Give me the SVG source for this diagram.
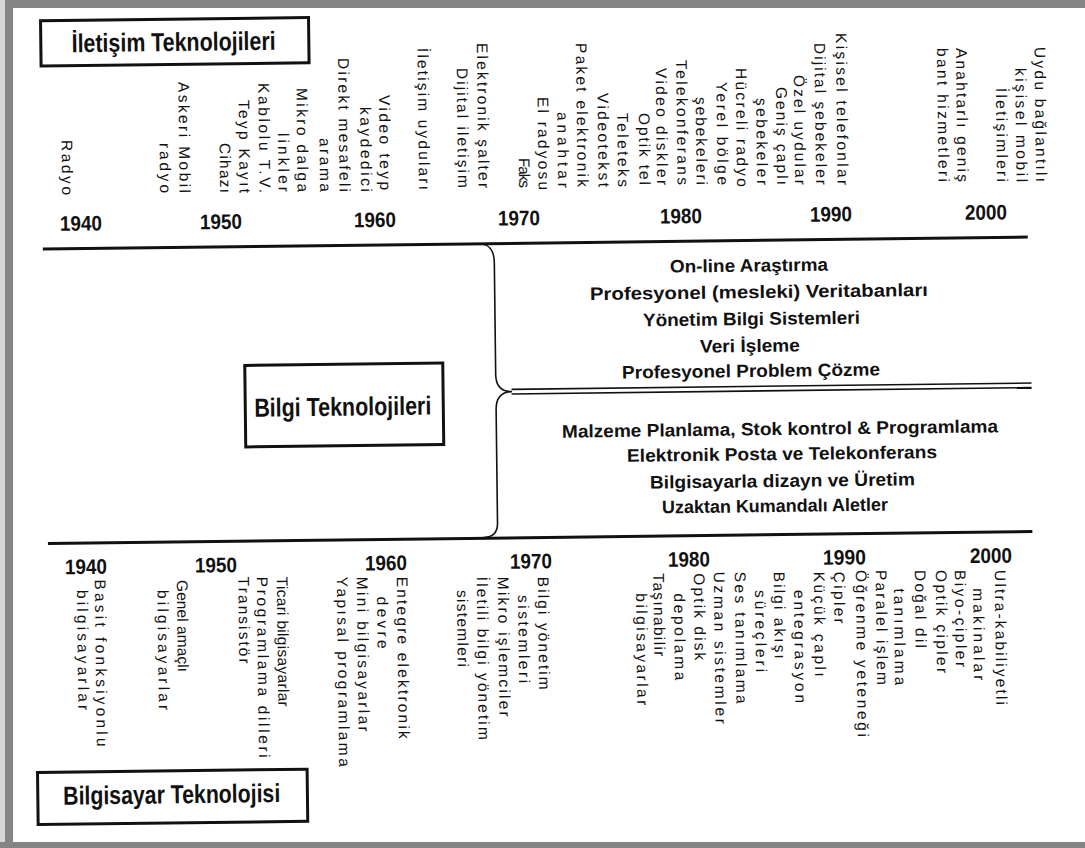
<svg xmlns="http://www.w3.org/2000/svg" width="1085" height="848" viewBox="0 0 1085 848">
  <style>
    .lbl { font-family: "Liberation Sans", Arial, sans-serif; font-size: 15.5px; fill: #111; }
    .yr { font-family: "Liberation Sans", Arial, sans-serif; font-size: 21px; font-weight: bold; fill: #111; }
    .mid { font-family: "Liberation Sans", Arial, sans-serif; font-size: 18px; font-weight: bold; fill: #111; }
    .ttl { font-family: "Liberation Sans", Arial, sans-serif; font-size: 26px; font-weight: bold; fill: #111; }
    .box { fill: none; stroke: #111; stroke-width: 3; }
    .rule { stroke: #111; stroke-width: 3; fill: none; }
    .thin { stroke: #111; stroke-width: 1.6; fill: none; }
    .frame { fill: #858585; }
  </style>
  <rect width="1085" height="848" fill="#ffffff"/>

  <!-- page frame -->
  <g id="frame">
    <rect class="frame" x="0" y="0" width="1085" height="8"/>
    <rect x="0" y="0" width="5" height="848" fill="#d6d6d6"/>
    <rect class="frame" x="5" y="0" width="8" height="848"/>
    <rect class="frame" x="0" y="842" width="1085" height="6"/>
  </g>

  <!-- the whole sheet sits slightly tilted -->
  <g transform="rotate(-0.7 542 424)">

    <g id="connectors">
      <line class="rule" x1="45" y1="243" x2="1030" y2="243"/>
      <line class="rule" x1="46.5" y1="537.5" x2="1031" y2="537.5"/>
      <path class="thin" d="M481,243 C491,243 496.3,250 496.3,262 L496.3,374 C496.3,386 502,391.3 512.5,391.3 C502,391.3 496.3,397 496.3,409 L496.3,523 C496.3,532 491,537 481,537"/>
      <line class="thin" x1="512" y1="389" x2="1032" y2="389"/>
      <line class="thin" x1="512" y1="393.6" x2="1032" y2="393.6"/>
    </g>

    <g id="iletisim-teknolojileri">
      <rect class="box" x="45.5" y="14.7" width="268" height="45.3"/>
      <text class="ttl" x="76.3" y="46.5" textLength="204" lengthAdjust="spacingAndGlyphs">İletişim Teknolojileri</text>
    </g>

    <g id="bilgi-teknolojileri">
      <rect class="box" x="245.5" y="361.8" width="198" height="81.5"/>
      <text class="ttl" x="254.5" y="413.2" textLength="177" lengthAdjust="spacingAndGlyphs">Bilgi Teknolojileri</text>
    </g>

    <g id="bilgisayar-teknolojisi">
      <rect class="box" x="33.3" y="766.3" width="269.6" height="52.1"/>
      <text class="ttl" x="58.7" y="798.8" textLength="217" lengthAdjust="spacingAndGlyphs">Bilgisayar Teknolojisi</text>
    </g>

    <g id="years-top">
      <text class="yr" x="62.5" y="225" textLength="42" lengthAdjust="spacingAndGlyphs">1940</text>
      <text class="yr" x="202.5" y="225" textLength="42" lengthAdjust="spacingAndGlyphs">1950</text>
      <text class="yr" x="356.5" y="225" textLength="42" lengthAdjust="spacingAndGlyphs">1960</text>
      <text class="yr" x="500.5" y="225" textLength="42" lengthAdjust="spacingAndGlyphs">1970</text>
      <text class="yr" x="662.5" y="225" textLength="42" lengthAdjust="spacingAndGlyphs">1980</text>
      <text class="yr" x="812.5" y="225" textLength="42" lengthAdjust="spacingAndGlyphs">1990</text>
      <text class="yr" x="967.5" y="225" textLength="42" lengthAdjust="spacingAndGlyphs">2000</text>
    </g>

    <g id="years-bottom">
      <text class="yr" x="63.3" y="568.3" textLength="42" lengthAdjust="spacingAndGlyphs">1940</text>
      <text class="yr" x="193.3" y="568.3" textLength="42" lengthAdjust="spacingAndGlyphs">1950</text>
      <text class="yr" x="363.3" y="568.3" textLength="42" lengthAdjust="spacingAndGlyphs">1960</text>
      <text class="yr" x="508.3" y="568.3" textLength="42" lengthAdjust="spacingAndGlyphs">1970</text>
      <text class="yr" x="666.3" y="568.3" textLength="42" lengthAdjust="spacingAndGlyphs">1980</text>
      <text class="yr" x="821.3" y="568.3" textLength="43" lengthAdjust="spacingAndGlyphs">1990</text>
      <text class="yr" x="968.3" y="568.3" textLength="42" lengthAdjust="spacingAndGlyphs">2000</text>
    </g>

    <!-- communication technologies, vertical labels -->
    <g id="iletisim-items">
      <text class="lbl" transform="translate(65 134.2) rotate(90)" textLength="55" lengthAdjust="spacing">Radyo</text>
      <text class="lbl" transform="translate(182.5 77.6) rotate(90)" textLength="111" lengthAdjust="spacing">Askeri Mobil</text>
      <text class="lbl" transform="translate(163 138.4) rotate(90)" textLength="50" lengthAdjust="spacing">radyo</text>
      <text class="lbl" transform="translate(242.5 96.4) rotate(90)" textLength="93" lengthAdjust="spacing">Teyp Kayıt</text>
      <text class="lbl" transform="translate(223 139.1) rotate(90)" textLength="50" lengthAdjust="spacing">Cihazı</text>
      <text class="lbl" transform="translate(262.5 79.6) rotate(90)" textLength="110" lengthAdjust="spacing">Kablolu T.V.</text>
      <text class="lbl" transform="translate(300.5 85.1) rotate(90)" textLength="104" lengthAdjust="spacing">Mikro dalga</text>
      <text class="lbl" transform="translate(281.5 129.8) rotate(90)" textLength="59" lengthAdjust="spacing">linkler</text>
      <text class="lbl" transform="translate(342.5 55.6) rotate(90)" textLength="134" lengthAdjust="spacing">Direkt mesafeli</text>
      <text class="lbl" transform="translate(323 135.3) rotate(90)" textLength="54" lengthAdjust="spacing">arama</text>
      <text class="lbl" transform="translate(383 93.1) rotate(90)" textLength="95" lengthAdjust="spacing">Video teyp</text>
      <text class="lbl" transform="translate(364 104.8) rotate(90)" textLength="85" lengthAdjust="spacing">kaydedici</text>
      <text class="lbl" transform="translate(422 46.5) rotate(90)" textLength="142" lengthAdjust="spacing">İletişim uyduları</text>
      <text class="lbl" transform="translate(481.5 42.3) rotate(90)" textLength="145" lengthAdjust="spacing">Elektronik şalter</text>
      <text class="lbl" transform="translate(461 67) rotate(90)" textLength="120" lengthAdjust="spacing">Dijital iletişim</text>
      <text class="lbl" transform="translate(541.5 97) rotate(90)" textLength="93" lengthAdjust="spacing">El radyosu</text>
      <text class="lbl" transform="translate(522 157.8) rotate(90)" textLength="30" lengthAdjust="spacing">Faks</text>
      <text class="lbl" transform="translate(580.5 43.5) rotate(90)" textLength="144" lengthAdjust="spacing">Paket elektronik</text>
      <text class="lbl" transform="translate(561 112.2) rotate(90)" textLength="76" lengthAdjust="spacing">anahtar</text>
      <text class="lbl" transform="translate(601.5 93.7) rotate(90)" textLength="94" lengthAdjust="spacing">Videotekst</text>
      <text class="lbl" transform="translate(621 114) rotate(90)" textLength="74" lengthAdjust="spacing">Teleteks</text>
      <text class="lbl" transform="translate(642.5 114.2) rotate(90)" textLength="72" lengthAdjust="spacing">Optik tel</text>
      <text class="lbl" transform="translate(660 69.5) rotate(90)" textLength="117" lengthAdjust="spacing">Video diskler</text>
      <text class="lbl" transform="translate(680.5 61.7) rotate(90)" textLength="125" lengthAdjust="spacing">Telekonferans</text>
      <text class="lbl" transform="translate(699.5 98.9) rotate(90)" textLength="88" lengthAdjust="spacing">şebekeleri</text>
      <text class="lbl" transform="translate(720.5 84.2) rotate(90)" textLength="103" lengthAdjust="spacing">Yerel bölge</text>
      <text class="lbl" transform="translate(740 70.4) rotate(90)" textLength="119" lengthAdjust="spacing">Hücreli radyo</text>
      <text class="lbl" transform="translate(760 100.7) rotate(90)" textLength="87" lengthAdjust="spacing">şebekeler</text>
      <text class="lbl" transform="translate(780 89.9) rotate(90)" textLength="98" lengthAdjust="spacing">Geniş çaplı</text>
      <text class="lbl" transform="translate(798 78.1) rotate(90)" textLength="110" lengthAdjust="spacing">Özel uydular</text>
      <text class="lbl" transform="translate(819 46.4) rotate(90)" textLength="142" lengthAdjust="spacing">Dijital şebekeler</text>
      <text class="lbl" transform="translate(840.5 36.7) rotate(90)" textLength="152" lengthAdjust="spacing">Kişisel telefonlar</text>
      <text class="lbl" transform="translate(960.5 53.1) rotate(90)" textLength="134" lengthAdjust="spacing">Anahtarlı geniş</text>
      <text class="lbl" transform="translate(941.5 52.9) rotate(90)" textLength="134" lengthAdjust="spacing">bant hizmetleri</text>
      <text class="lbl" transform="translate(1039 53.1) rotate(90)" textLength="135" lengthAdjust="spacing">Uydu bağlantılı</text>
      <text class="lbl" transform="translate(1019.5 73.9) rotate(90)" textLength="114" lengthAdjust="spacing">kişisel mobil</text>
      <text class="lbl" transform="translate(1000 93.6) rotate(90)" textLength="94" lengthAdjust="spacing">İletişimleri</text>
    </g>

    <!-- information technologies, centred lists -->
    <g id="bilgi-items">
      <text class="mid" x="671.9" y="274.2" textLength="158" lengthAdjust="spacingAndGlyphs">On-line Araştırma</text>
      <text class="mid" x="591.5" y="300.7" textLength="338" lengthAdjust="spacingAndGlyphs">Profesyonel (mesleki) Veritabanları</text>
      <text class="mid" x="644.2" y="327.6" textLength="217" lengthAdjust="spacingAndGlyphs">Yönetim Bilgi Sistemleri</text>
      <text class="mid" x="700.9" y="354.5" textLength="100" lengthAdjust="spacingAndGlyphs">Veri İşleme</text>
      <text class="mid" x="622.6" y="379.6" textLength="258" lengthAdjust="spacingAndGlyphs">Profesyonel Problem Çözme</text>
      <text class="mid" x="561.9" y="437.9" textLength="436" lengthAdjust="spacingAndGlyphs">Malzeme Planlama, Stok kontrol &amp; Programlama</text>
      <text class="mid" x="626.6" y="462.9" textLength="310" lengthAdjust="spacingAndGlyphs">Elektronik Posta ve Telekonferans</text>
      <text class="mid" x="649.2" y="489.9" textLength="265" lengthAdjust="spacingAndGlyphs">Bilgisayarla dizayn ve Üretim</text>
      <text class="mid" x="660.9" y="514.8" textLength="226" lengthAdjust="spacingAndGlyphs">Uzaktan Kumandalı Aletler</text>
    </g>

    <!-- computer technology, vertical labels -->
    <g id="bilgisayar-items">
      <text class="lbl" transform="translate(92.9 574.1) rotate(90)" textLength="167" lengthAdjust="spacing">Basit fonksiyonlu</text>
      <text class="lbl" transform="translate(74.9 584.4) rotate(90)" textLength="120" lengthAdjust="spacing">bilgisayarlar</text>
      <text class="lbl" transform="translate(174.9 575.6) rotate(90)" textLength="92" lengthAdjust="spacing">Genel amaçlı</text>
      <text class="lbl" transform="translate(155.4 585.4) rotate(90)" textLength="120" lengthAdjust="spacing">bilgisayarlar</text>
      <text class="lbl" transform="translate(274.9 573.5) rotate(90)" textLength="130" lengthAdjust="spacing">Ticari bilgisayarlar</text>
      <text class="lbl" transform="translate(254.9 573.3) rotate(90)" textLength="181" lengthAdjust="spacing">Programlama dilleri</text>
      <text class="lbl" transform="translate(236.4 573) rotate(90)" textLength="87" lengthAdjust="spacing">Transistör</text>
      <text class="lbl" transform="translate(394.9 575) rotate(90)" textLength="162" lengthAdjust="spacing">Entegre elektronik</text>
      <text class="lbl" transform="translate(374.9 594.7) rotate(90)" textLength="52" lengthAdjust="spacing">devre</text>
      <text class="lbl" transform="translate(354.9 574.5) rotate(90)" textLength="155" lengthAdjust="spacing">Mini bilgisayarlar</text>
      <text class="lbl" transform="translate(334.9 574.3) rotate(90)" textLength="190" lengthAdjust="spacing">Yapısal programlama</text>
      <text class="lbl" transform="translate(535.9 576.7) rotate(90)" textLength="113" lengthAdjust="spacing">Bilgi yönetim</text>
      <text class="lbl" transform="translate(515.9 594.8) rotate(90)" textLength="88" lengthAdjust="spacing">sistemleri</text>
      <text class="lbl" transform="translate(495.9 576.2) rotate(90)" textLength="140" lengthAdjust="spacing">Mikro işlemciler</text>
      <text class="lbl" transform="translate(474.9 576) rotate(90)" textLength="163" lengthAdjust="spacing">İletili bilgi yönetim</text>
      <text class="lbl" transform="translate(454.9 589) rotate(90)" textLength="77" lengthAdjust="spacing">sistemleri</text>
      <text class="lbl" transform="translate(691.9 575.2) rotate(90)" textLength="87" lengthAdjust="spacing">Optik disk</text>
      <text class="lbl" transform="translate(671.9 595) rotate(90)" textLength="87" lengthAdjust="spacing">depolama</text>
      <text class="lbl" transform="translate(651.4 574.7) rotate(90)" textLength="83" lengthAdjust="spacing">Taşınabilir</text>
      <text class="lbl" transform="translate(633.9 594.5) rotate(90)" textLength="112" lengthAdjust="spacing">bilgisayarlar</text>
      <text class="lbl" transform="translate(711.9 573.9) rotate(90)" textLength="152" lengthAdjust="spacing">Uzman sistemler</text>
      <text class="lbl" transform="translate(732.9 574.1) rotate(90)" textLength="132" lengthAdjust="spacing">Ses tanımlama</text>
      <text class="lbl" transform="translate(752.9 592.7) rotate(90)" textLength="82" lengthAdjust="spacing">süreçleri</text>
      <text class="lbl" transform="translate(771.9 574.6) rotate(90)" textLength="87" lengthAdjust="spacing">Bilgi akışı</text>
      <text class="lbl" transform="translate(791.9 593.1) rotate(90)" textLength="113" lengthAdjust="spacing">entegrasyon</text>
      <text class="lbl" transform="translate(811.9 575.1) rotate(90)" textLength="105" lengthAdjust="spacing">Küçük çaplı</text>
      <text class="lbl" transform="translate(831.9 575.3) rotate(90)" textLength="52" lengthAdjust="spacing">Çipler</text>
      <text class="lbl" transform="translate(853.9 573.9) rotate(90)" textLength="167" lengthAdjust="spacing">Öğrenme yeteneği</text>
      <text class="lbl" transform="translate(873.9 574.1) rotate(90)" textLength="115" lengthAdjust="spacing">Paralel işlem</text>
      <text class="lbl" transform="translate(891.9 592.7) rotate(90)" textLength="97" lengthAdjust="spacing">tanımlama</text>
      <text class="lbl" transform="translate(912.9 574.6) rotate(90)" textLength="78" lengthAdjust="spacing">Doğal dil</text>
      <text class="lbl" transform="translate(933.9 574.9) rotate(90)" textLength="103" lengthAdjust="spacing">Optik çipler</text>
      <text class="lbl" transform="translate(952.9 575.1) rotate(90)" textLength="97" lengthAdjust="spacing">Biyo-çipler</text>
      <text class="lbl" transform="translate(970.9 593.6) rotate(90)" textLength="92" lengthAdjust="spacing">makinalar</text>
      <text class="lbl" transform="translate(992.9 575.6) rotate(90)" textLength="135" lengthAdjust="spacing">Ultra-kabiliyetli</text>
    </g>
  </g>
</svg>
